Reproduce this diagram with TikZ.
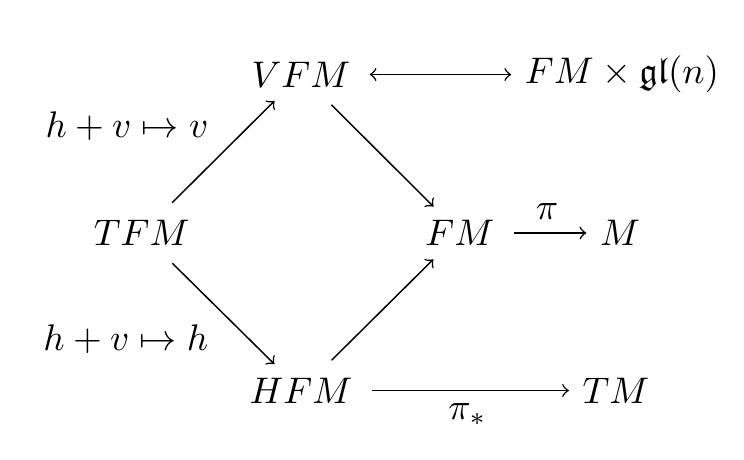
\documentclass[tikz,border=0pt]{standalone}
\usepackage{amsmath,amssymb}
\usepackage{tikz}

\begin{document}
\begin{tikzpicture}[>=to,
    % ---- styles ----
    O/.style={inner sep=3.5pt},
    A/.style={->, line width=0.4pt, shorten <=1.5pt},
    L/.style={font=\normalsize},
]
\useasboundingbox (0,0) rectangle (7.061,4.356);

% ===== Row 1 =====
\node[O] (vfm)  at (2.857, 3.649) {$VFM$};
\node[O] (prod) at (5.903, 3.649) {$FM \times \mathfrak{gl}(n)$};

% ===== Row 2 =====
\node[O] (tfm) at (1.345, 2.145) {$TFM$};
\node[O] (fm)  at (4.365, 2.145) {$FM$};
\node[O] (m)   at (5.884, 2.145) {$M$};

% ===== Row 3 =====
\node[O] (hfm) at (2.857, 0.650) {$HFM$};
\node[O] (tm)  at (5.846, 0.650) {$TM$};

% Projections out of TFM
\draw[A] (tfm) -- node[L, midway, above left] {$h+v\mapsto v$} (vfm);
\draw[A] (tfm) -- node[L, midway, below left] {$h+v\mapsto h$} (hfm);

% Into FM
\draw[A] (vfm) -- (fm);
\draw[A] (hfm) -- (fm);

% Horizontal maps
\draw[A, <->] (vfm) -- (prod);
\draw[A] (fm)  -- node[L, above] {$\pi$} (m);
\draw[A] (hfm) -- node[L, below] {$\pi_*$} (tm);

\end{tikzpicture}
\end{document}
